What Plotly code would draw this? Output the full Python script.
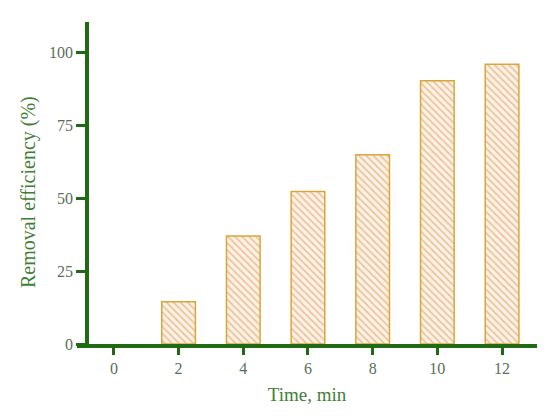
import plotly.graph_objects as go

time_min = [0, 2, 4, 6, 8, 10, 12]
removal_eff = [0, 14.5, 37.0, 52.2, 64.8, 90.2, 95.8]
x_ticks = [0, 2, 4, 6, 8, 10, 12]
y_ticks = [0, 25, 50, 75, 100]

axis_green = "#1f6a12"
tick_col = "#5a6e58"
title_col = "#3f7f35"

fig = go.Figure()
fig.add_trace(go.Bar(
    x=time_min, y=removal_eff, width=1.04,
    marker=dict(
        color="#fff2ea",
        line=dict(color="#d9a63a", width=[0 if v == 0 else 1.5 for v in removal_eff]),
        pattern=dict(shape="\\", fgcolor="#d99545", bgcolor="#fff2ea", size=5, solidity=0.35),
    ),
))

fig.update_layout(
    width=550, height=419,
    margin=dict(l=69, r=21, t=14, b=83, autoexpand=False),
    paper_bgcolor="white", plot_bgcolor="white",
    font=dict(family="Liberation Serif", size=16, color=tick_col),
    showlegend=False,
    xaxis=dict(
        range=[-1.14, 13.08], tickvals=x_ticks, ticktext=[str(v) for v in x_ticks],
        showline=True, linecolor=axis_green, linewidth=3.5, showgrid=False, zeroline=False,
        ticks="outside", ticklen=7, tickwidth=3, tickcolor=axis_green, automargin=False,
        title=dict(text="Time, min", font=dict(size=19, color=title_col), standoff=13),
        tickfont=dict(size=16, color=tick_col),
    ),
    yaxis=dict(
        range=[0, 110.3], tickvals=y_ticks, ticktext=[str(v) for v in y_ticks],
        anchor="free", position=10/460, automargin=False,
        showline=True, linecolor=axis_green, linewidth=3.5, showgrid=False, zeroline=False,
        ticks="outside", ticklen=9, tickwidth=3, tickcolor=axis_green,
        tickfont=dict(size=16, color=tick_col),
    ),
    annotations=[dict(
        text="Removal efficiency (%)", xref="paper", yref="paper",
        x=-0.1065, y=0.472, xanchor="center", yanchor="middle", textangle=-90,
        showarrow=False, font=dict(size=20, color=title_col, family="Liberation Serif"),
    )],
)

fig.write_html("out.html")
